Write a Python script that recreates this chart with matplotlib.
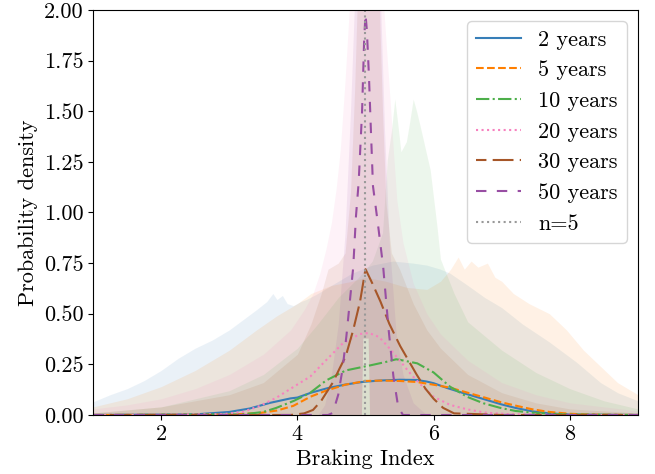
import matplotlib
matplotlib.use("Agg")
import matplotlib.pyplot as plt
from matplotlib.ticker import FormatStrFormatter

plt.rcParams['font.family'] = 'serif'
plt.rcParams['font.serif'] = ['cmr10']
plt.rcParams['mathtext.fontset'] = 'cm'
plt.rcParams['axes.formatter.use_mathtext'] = True
plt.rcParams['axes.unicode_minus'] = False

labels = ["2 years", "5 years", "10 years", "20 years", "30 years", "50 years"]
colours = ['#377eb8', '#ff7f00', '#4daf4a', '#f781bf', '#a65628', '#984ea3']
styles = ['-', '--', '-.', ':', (5, (10, 3)), (0, (5, 5))]

# ---- density curves ----
x_2 = [1.0, 2.5, 3.0, 3.3, 3.6, 3.9, 4.0, 4.2, 4.45, 4.7, 4.95, 5.2, 5.5, 5.75, 5.9, 6.0, 6.2, 6.4, 6.6, 6.8, 7.0, 7.2, 7.45, 7.7, 8.0, 9.0]
y_2 = [0.0, 0.003, 0.015, 0.032, 0.06, 0.082, 0.086, 0.11, 0.133, 0.15, 0.163, 0.17, 0.174, 0.173, 0.165, 0.157, 0.133, 0.112, 0.092, 0.072, 0.052, 0.035, 0.018, 0.008, 0.002, 0.0]

x_5 = [1.0, 3.0, 3.45, 3.7, 3.94, 4.19, 4.42, 4.71, 5.0, 5.25, 5.5, 5.75, 5.99, 6.24, 6.5, 6.73, 7.0, 7.22, 7.45, 7.7, 8.0, 8.3, 9.0]
y_5 = [0.0, 0.002, 0.01, 0.022, 0.045, 0.09, 0.12, 0.15, 0.168, 0.17, 0.168, 0.163, 0.15, 0.135, 0.11, 0.088, 0.062, 0.045, 0.028, 0.015, 0.006, 0.002, 0.0]

x_10 = [1.0, 3.2, 3.5, 3.69, 3.95, 4.19, 4.42, 4.71, 5.07, 5.3, 5.45, 5.51, 5.76, 6.0, 6.24, 6.49, 6.73, 6.98, 7.2, 7.5, 8.0, 9.0]
y_10 = [0.0, 0.003, 0.015, 0.035, 0.07, 0.11, 0.17, 0.22, 0.245, 0.262, 0.275, 0.272, 0.255, 0.21, 0.14, 0.09, 0.058, 0.035, 0.02, 0.01, 0.002, 0.0]

x_20 = [1.0, 2.9, 3.2, 3.45, 3.69, 3.95, 4.19, 4.42, 4.67, 4.92, 5.05, 5.2, 5.35, 5.5, 5.62, 5.75, 6.0, 6.24, 6.49, 6.75, 7.1, 8.0, 9.0]
y_20 = [0.0, 0.004, 0.015, 0.045, 0.085, 0.14, 0.19, 0.27, 0.355, 0.4, 0.405, 0.385, 0.33, 0.27, 0.22, 0.17, 0.09, 0.05, 0.028, 0.012, 0.004, 0.0, 0.0]

x_30 = [1.0, 3.9, 4.1, 4.23, 4.35, 4.52, 4.62, 4.71, 4.82, 4.92, 5.0, 5.1, 5.22, 5.35, 5.51, 5.63, 5.75, 5.88, 6.0, 6.14, 6.3, 7.0, 9.0]
y_30 = [0.0, 0.0, 0.008, 0.025, 0.07, 0.16, 0.23, 0.29, 0.42, 0.56, 0.72, 0.65, 0.56, 0.45, 0.34, 0.27, 0.2, 0.13, 0.08, 0.035, 0.008, 0.0, 0.0]

x_50 = [1.0, 4.45, 4.52, 4.6, 4.66, 4.72, 4.77, 4.82, 4.86, 4.9, 4.95, 4.98, 5.0, 5.02, 5.05, 5.08, 5.11, 5.18, 5.26, 5.34, 5.41, 5.48, 5.55, 9.0]
y_50 = [0.0, 0.0, 0.01, 0.1, 0.22, 0.39, 0.56, 0.73, 0.98, 1.15, 1.5, 1.85, 1.98, 1.9, 1.68, 1.4, 1.13, 0.95, 0.73, 0.42, 0.19, 0.04, 0.0, 0.0]

# ---- shaded spread for each interval: lower and upper edges ----
bx_2 = [1.0, 1.25, 1.5, 1.75, 2.0, 2.25, 2.5, 2.75, 3.0, 3.2, 3.4, 3.55, 3.64, 3.7, 3.78, 3.85, 3.94, 4.05, 4.13, 4.3, 4.5, 4.8, 5.1, 5.4, 5.7, 5.9, 6.1, 6.24, 6.5, 6.75, 7.0, 7.3, 7.7, 8.1, 8.45, 8.7, 9.0]
by_2 = [0.065, 0.1, 0.13, 0.17, 0.22, 0.28, 0.33, 0.37, 0.42, 0.47, 0.52, 0.56, 0.6, 0.57, 0.59, 0.55, 0.54, 0.56, 0.57, 0.6, 0.64, 0.7, 0.74, 0.76, 0.75, 0.74, 0.72, 0.7, 0.64, 0.58, 0.53, 0.45, 0.36, 0.26, 0.16, 0.11, 0.07]
lo_2 = [0.0] * len(bx_2)

bx_5 = [1.0, 1.5, 2.0, 2.5, 3.0, 3.4, 3.7, 4.0, 4.2, 4.5, 4.8, 5.0, 5.3, 5.6, 5.9, 6.1, 6.25, 6.36, 6.45, 6.55, 6.65, 6.79, 6.9, 7.0, 7.17, 7.4, 7.7, 7.95, 8.2, 8.45, 8.7, 9.0]
by_5 = [0.04, 0.08, 0.14, 0.22, 0.32, 0.42, 0.49, 0.55, 0.6, 0.64, 0.66, 0.68, 0.66, 0.63, 0.62, 0.66, 0.72, 0.78, 0.72, 0.76, 0.73, 0.75, 0.68, 0.66, 0.6, 0.55, 0.5, 0.42, 0.32, 0.24, 0.16, 0.1]
lo_5 = [0.0] * len(bx_5)

bx_10 = [1.0, 2.0, 3.0, 3.5, 4.0, 4.3, 4.6, 4.9, 5.1, 5.25, 5.32, 5.38, 5.43, 5.47, 5.52, 5.6, 5.65, 5.7, 5.75, 5.8, 5.95, 6.05, 6.1, 6.3, 6.5, 7.0, 7.5, 8.0, 8.5, 9.0]
by_10 = [0.01, 0.04, 0.12, 0.2, 0.33, 0.45, 0.58, 0.68, 0.76, 0.9, 1.26, 1.4, 1.56, 1.45, 1.3, 1.35, 1.45, 1.56, 1.5, 1.43, 1.21, 0.93, 0.77, 0.6, 0.46, 0.32, 0.21, 0.13, 0.07, 0.03]
lo_10 = [0.0] * len(bx_10)

bx_20 = [1.0, 1.5, 2.0, 2.5, 3.0, 3.5, 3.9, 4.1, 4.23, 4.33, 4.42, 4.5, 4.57, 4.63, 4.7, 4.77, 4.94, 4.96, 5.04, 5.06, 5.26, 5.31, 5.36, 5.41, 5.46, 5.55, 5.7, 5.9, 6.1, 6.5, 7.0, 7.5, 8.0, 8.5, 9.0]
by_20 = [0.03, 0.05, 0.08, 0.13, 0.2, 0.3, 0.42, 0.52, 0.6, 0.7, 0.82, 0.95, 1.12, 1.31, 1.65, 2.05, 2.05, 2.05, 2.05, 2.05, 2.05, 1.8, 1.56, 1.3, 1.06, 0.85, 0.65, 0.5, 0.4, 0.27, 0.16, 0.1, 0.06, 0.04, 0.02]
lo_20 = [0.0] * 17 + [0.38, 0.38] + [0.0] * 16

bx_30 = [1.0, 2.0, 3.0, 3.5, 4.0, 4.2, 4.35, 4.45, 4.6, 4.7, 4.78, 4.84, 4.88, 4.94, 4.96, 5.04, 5.06, 5.2, 5.25, 5.3, 5.38, 5.5, 5.7, 5.9, 6.1, 6.5, 7.0, 7.5, 8.0, 9.0]
by_30 = [0.01, 0.04, 0.1, 0.16, 0.3, 0.45, 0.6, 0.72, 0.75, 0.8, 1.1, 1.6, 2.05, 2.05, 2.05, 2.05, 2.05, 2.05, 1.5, 1.05, 0.8, 0.72, 0.55, 0.42, 0.33, 0.2, 0.11, 0.06, 0.03, 0.01]
lo_30 = [0.0] * 14 + [0.38, 0.38] + [0.0] * 14

bx_50 = [1.0, 4.3, 4.4, 4.5, 4.6, 4.7, 4.78, 4.84, 4.94, 4.96, 5.04, 5.06, 5.22, 5.28, 5.35, 5.45, 5.55, 5.7, 5.9, 9.0]
by_50 = [0.0, 0.0, 0.05, 0.2, 0.45, 0.9, 1.5, 2.05, 2.05, 2.05, 2.05, 2.05, 2.05, 1.4, 0.85, 0.4, 0.2, 0.06, 0.0, 0.0]
lo_50 = [0.0] * 9 + [0.38, 0.38] + [0.0] * 9

curves = [(x_2, y_2), (x_5, y_5), (x_10, y_10), (x_20, y_20), (x_30, y_30), (x_50, y_50)]
bands = [(bx_2, lo_2, by_2), (bx_5, lo_5, by_5), (bx_10, lo_10, by_10),
         (bx_20, lo_20, by_20), (bx_30, lo_30, by_30), (bx_50, lo_50, by_50)]

fig = plt.figure(figsize=(6.55, 4.74), dpi=100)
ax = fig.add_axes([0.142, 0.1245, 0.832, 0.8545])

# shaded spread first, lines on top
for i in range(len(bands)):
    bx, lo, hi = bands[i]
    ax.fill_between(bx, lo, hi, color=colours[i], alpha=0.1, linewidth=0)

for i in range(len(curves)):
    cx, cy = curves[i]
    ax.plot(cx, cy, color=colours[i], linestyle=styles[i], linewidth=1.5, label=labels[i])

ax.axvline(5, color='#999999', linestyle=':', linewidth=1.5, label='n=5')

ax.set_xlim(1, 9)
ax.set_ylim(0, 2)
ax.set_xticks([2, 4, 6, 8])
ax.set_yticks([0, 0.25, 0.5, 0.75, 1.0, 1.25, 1.5, 1.75, 2.0])
ax.yaxis.set_major_formatter(FormatStrFormatter('%.2f'))
ax.tick_params(labelsize=16)
ax.set_xlabel("Braking Index", fontsize=16)
ax.set_ylabel("Probability density", fontsize=16)

ax.legend(loc='upper right', fontsize=16)

fig.savefig("out.png", dpi=100)
